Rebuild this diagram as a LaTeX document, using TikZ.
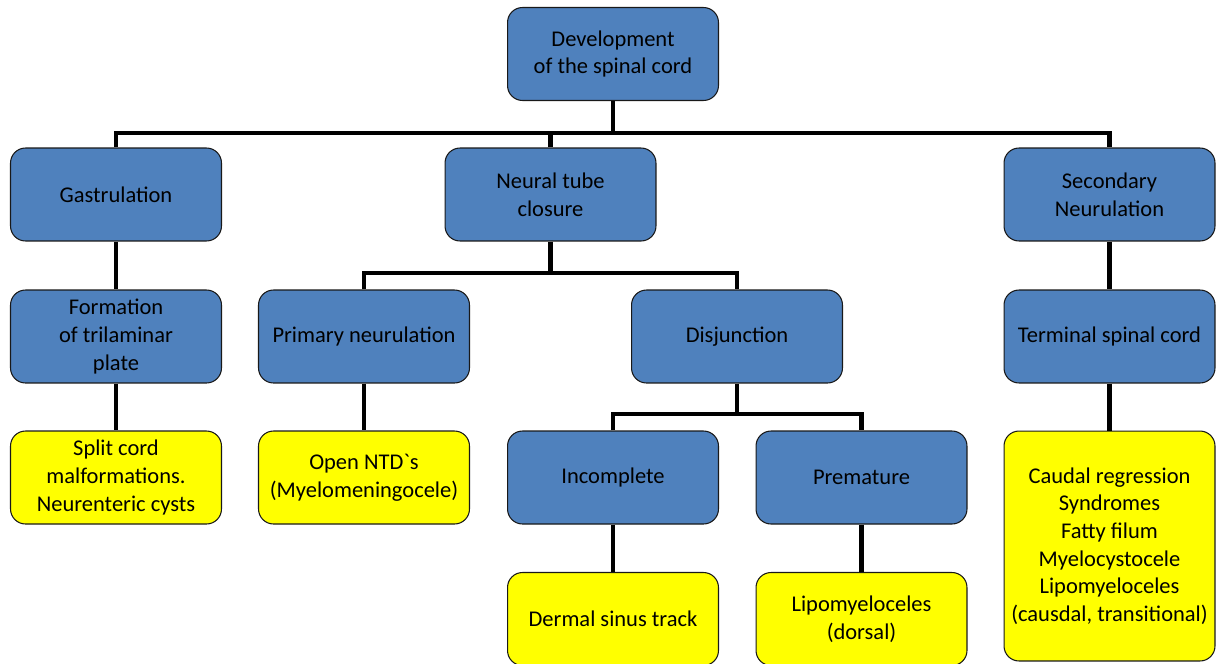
\documentclass[tikz,border=0pt]{standalone}
\usepackage{fontspec}
\setmainfont{Carlito}[Ligatures=TeXOff]
\usepackage{tikz}

\definecolor{boxblue}{HTML}{4F81BD}
\definecolor{boxyellow}{HTML}{FFFF00}

\begin{document}
\begin{tikzpicture}[x=0.02cm, y=-0.02cm]

        \useasboundingbox (0,0) rectangle (1216,663);
        \clip (0,0) rectangle (1216,663);

        \begin{scope}[every node/.style={rectangle, rounded corners=0.3cm, draw=black!90, line width=0.6pt,
            fill=boxblue, minimum width=4.22cm, minimum height=1.86cm, inner sep=2pt,
            align=center, font=\fontsize{12.8}{15.7}\selectfont}]
          \node (root)  at (613,54)     {Development\\of the spinal cord};
          \node (gast)  at (116,194.5)  {Gastrulation};
          \node (ntc)   at (550.5,194.5) {Neural tube\\closure};
          \node (sec)   at (1109.5,194.5) {Secondary\\Neurulation};
          \node (form)  at (116,336.5)  {Formation\\of trilaminar\\plate};
          \node (prim)  at (364,336.5)  {Primary neurulation};
          \node (disj)  at (737,336.5)  {Disjunction};
          \node (term)  at (1109.5,336.5) {Terminal spinal cord};
          \node (inc)   at (613,477.5)  {Incomplete};
          \node (prem)  at (861.5,477.5) {Premature};
        \end{scope}

        \begin{scope}[every node/.style={rectangle, rounded corners=0.3cm, draw=black!90, line width=0.6pt,
            fill=boxyellow, minimum width=4.22cm, minimum height=1.86cm, inner sep=2pt,
            align=center, font=\fontsize{12.8}{15.7}\selectfont}]
          \node (split)  at (116,477.5)  {Split cord\\malformations.\\Neurenteric cysts};
          \node (open)   at (364,477.5)  {Open NTD`s\\(Myelomeningocele)};
          \node (dermal) at (613,619)    {Dermal sinus track};
          \node (lipo)   at (861.5,619)  {Lipomyeloceles\\(dorsal)};
          \node[minimum height=4.6cm] (caudal) at (1109.5,546)
            {Caudal regression\\Syndromes\\Fatty filum\\Myelocystocele\\Lipomyeloceles\\(causdal, transitional)};
        \end{scope}

        \begin{scope}[line width=2.3pt]
          \coordinate (bar1) at (613,133);
          \coordinate (bar2) at (550,273);
          \coordinate (bar3) at (737,414);

          \draw (root) -- (root |- bar1);
          \draw (gast) |- (bar1) -| (sec);
          \draw (ntc) -- (ntc |- bar1);

          \draw (ntc) -- (ntc |- bar2);
          \draw (prim) |- (bar2) -| (disj);

          \draw (disj) -- (disj |- bar3);
          \draw (inc) |- (bar3) -| (prem);

          \begin{scope}[every edge/.style={draw}]
            \path (gast)  edge (form);
            \path (form)  edge (split);
            \path (prim)  edge (open);
            \path (inc)   edge (dermal);
            \path (prem)  edge (lipo);
            \path (sec)   edge (term);
            \path (term)  edge (caudal);
          \end{scope}
        \end{scope}

      \end{tikzpicture}
\end{document}
